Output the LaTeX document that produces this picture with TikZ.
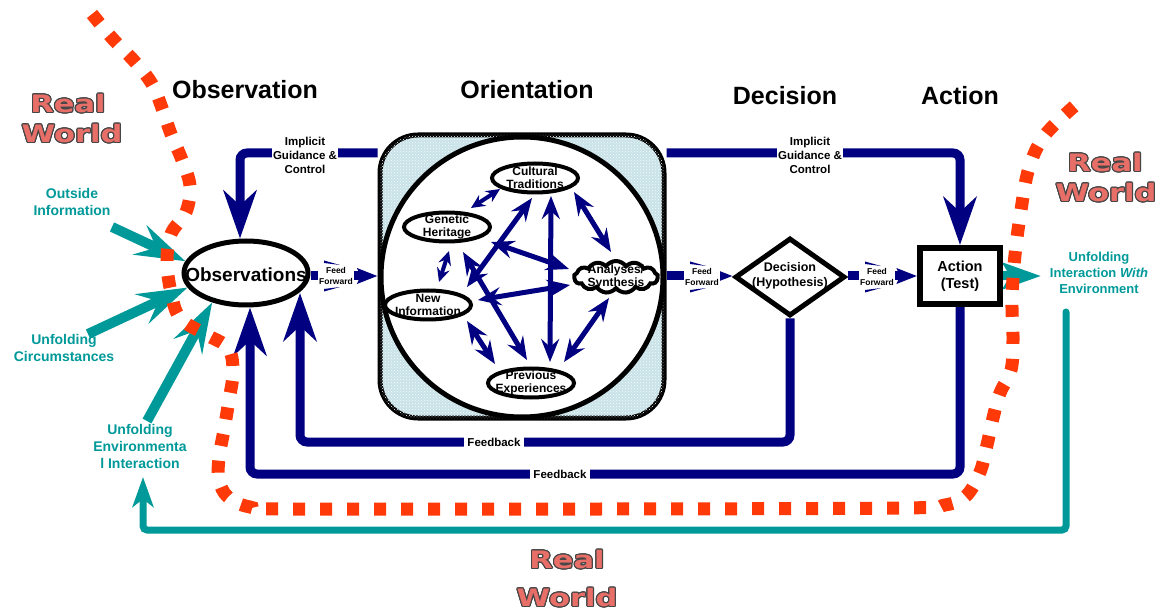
\documentclass[tikz,border=0pt]{standalone}
\usepackage{graphicx}
\usepackage{fontspec}
\setmainfont{Liberation Sans}
\newfontfamily\rwfont{DejaVu Sans}
\usepackage{contour}
\contourlength{0.9pt}
\usetikzlibrary{arrows.meta,shapes.geometric,shapes.symbols,patterns}
\definecolor{navy}{RGB}{0,0,128}
\definecolor{tealc}{RGB}{0,153,153}
\definecolor{dotred}{RGB}{255,58,8}
\definecolor{orientfill}{RGB}{200,226,232}
\definecolor{rwfill}{RGB}{232,110,104}
\definecolor{rwline}{RGB}{70,70,70}
\newcommand\rw[1]{\scalebox{1.27}[1]{\textcolor{rwfill}{\contour{rwline}{#1}}}}
\pgfdeclarelayer{back}
\pgfsetlayers{back,main}
% two thin wedges peeking out around a feed-forward label
\newcommand\slivers[1]{%
  \fill[navy] ([shift={(-12,-15.5)}]#1.center) -- ([shift={(4,-11)}]#1.center) -- ([shift={(-12,-13)}]#1.center) -- cycle;
  \fill[navy] ([shift={(-12,15.5)}]#1.center) -- ([shift={(4,11)}]#1.center) -- ([shift={(-12,13)}]#1.center) -- cycle;}
\begin{document}
\begin{tikzpicture}[x=1pt,y=-1pt,
  title/.style={font=\fontsize{25}{28}\selectfont\bfseries},
  flow/.style={draw=navy,line width=9pt,rounded corners=7pt},
  bighead/.style={-{Stealth[length=48pt,width=33pt,inset=15pt]}},
  guide/.style={font=\fontsize{11.5}{14}\selectfont\bfseries,fill=white,align=center,inner sep=1.5pt},
  fftext/.style={font=\fontsize{8.5}{10.5}\selectfont\bfseries,fill=white,align=center,inner sep=1.5pt},
  ffarrow/.style={draw=navy,line width=9pt,-{Stealth[length=20pt,width=15pt,inset=3pt]}},
  fbtext/.style={font=\fontsize{11.5}{13}\selectfont\bfseries,fill=white,inner sep=3pt},
  inlbl/.style={font=\fontsize{14}{17}\selectfont\bfseries,text=tealc,align=center},
  inarrow/.style={draw=tealc,line width=10pt,-{Stealth[length=50pt,width=32pt,inset=18pt]}},
  orarrow/.style={draw=navy,line width=5pt,{Stealth[length=23pt,width=18pt,inset=8pt]}-{Stealth[length=23pt,width=18pt,inset=8pt]}},
  smallarrow/.style={draw=navy,line width=4pt,{Stealth[length=14pt,width=13pt,inset=5pt]}-{Stealth[length=14pt,width=13pt,inset=5pt]}},
  sub/.style={draw,line width=4pt,ellipse,fill=white,inner sep=0pt,minimum width=86pt,minimum height=29pt},
  subtext/.style={font=\fontsize{12}{13}\selectfont\bfseries,align=center},
  rwtext/.style={font=\rwfont\fontsize{24}{28}\selectfont\bfseries,inner sep=0pt}
]
\useasboundingbox (0,0) rectangle (1157,612);

% phase titles
\node[title] (tobs) at (245,90) {Observation};
\node[title] (tori) at (527,90) {Orientation};
\node[title] (tdec) at (785,96) {Decision};
\node[title] (tact) at (960,96) {Action};

% real world labels
\node[rwtext] (rw1a) at (68,104) {\rw{Real}};
\node[rwtext] (rw1b) at (72,134) {\rw{World}};
\node[rwtext] (rw2a) at (1105,163) {\rw{Real}};
\node[rwtext] (rw2b) at (1106,193) {\rw{World}};
\node[rwtext] (rw3a) at (567,560) {\rw{Real}};
\node[rwtext] (rw3b) at (567,598) {\rw{World}};

% main boxes
\node[draw,line width=5pt,ellipse,fill=white,minimum width=124pt,minimum height=64pt,inner sep=0pt] (obs) at (246,273) {};
\node[font=\fontsize{19}{22}\selectfont\bfseries] (obst) at (246,275) {Observations};
\node[draw,line width=5pt,rounded corners=38pt,fill=orientfill,
      postaction={pattern=crosshatch dots,pattern color=white!85!orientfill},
      minimum width=284pt,minimum height=283pt] (orient) at (522,276.5) {};
\node[draw,line width=5pt,ellipse,fill=white,minimum width=282pt,minimum height=280pt,inner sep=0pt] (orc) at (522,277) {};
\node[draw,line width=5pt,diamond,fill=white,minimum width=110pt,minimum height=78pt,inner sep=0pt] (dec) at (790,277) {};
\node[font=\fontsize{12.5}{15}\selectfont\bfseries,align=center] (dect) at (790,276) {Decision\\(Hypothesis)};
\node[draw,line width=6pt,fill=white,minimum width=80pt,minimum height=56pt,align=center,font=\fontsize{14.5}{17}\selectfont\bfseries] (act) at (960,276) {Action\\(Test)};

% connectors behind the boxes
\begin{pgfonlayer}{back}
  \fill[white] (0,0) rectangle (1157,612);
  \draw[flow,bighead] (orient.west |- 0,153) -- (240,153) -- (obs.north -| 240,0);
  \draw[flow,bighead] (orient.east |- 0,153) -- (960,153) -- (act.north);
  \draw[flow,bighead] (dec.south) -- (dec.south |- 0,442) -- (300,442) -- (300,293);
  \draw[flow,bighead] (act.south) -- (act.south |- 0,474) -- (250,474) -- (obs.south -| 250,0);
  \draw[ffarrow] (obs.east |- 0,276) -- (orient.west |- 0,276);
  \draw[ffarrow] (orient.east |- 0,276) -- (dec.west |- 0,276);
  \draw[ffarrow] (dec.east |- 0,276) -- (act.west |- 0,276);
  % inputs from the environment
  \coordinate (oiA) at (112,227);
  \coordinate (ucA) at (88,334);
  \coordinate (ueA) at (147,421);
  \draw[inarrow] (oiA) -- (obs.169);
  \draw[inarrow] (ucA) -- (obs.194);
  \draw[inarrow] (ueA) -- (obs.221);
  \draw[draw=tealc,line width=9pt,-{Stealth[length=38pt,width=26pt,inset=7pt]}] (act.east) -- ++(38,0);
  \coordinate (envTop) at (1066,312);
  \draw[draw=tealc,line width=7pt,line cap=round,rounded corners=4pt,-{Stealth[length=30pt,width=21pt,inset=8pt]}]
    (envTop) -- (1066,530) -- (143,530) -- (143,477);
\end{pgfonlayer}

% labels on the connectors
\node[guide] (ig1) at (305,155) {Implicit\\Guidance \&\\Control};
\node[guide] (ig2) at (810,155) {Implicit\\Guidance \&\\Control};
\node[fftext] (ff1) at (336,276) {Feed\\Forward};
\node[fftext] (ff2) at (702,277) {Feed\\Forward};
\node[fftext] (ff3) at (877,277) {Feed\\Forward};
\slivers{ff1}\slivers{ff2}\slivers{ff3}
\node[fbtext] (fb1) at (494,442) {Feedback};
\node[fbtext] (fb2) at (560,474) {Feedback};

\node[inlbl] (oi) at (72,202) {Outside\\Information};
\node[inlbl] (uc) at (64,348) {Unfolding\\Circumstances};
\node[inlbl] (ue) at (140,446) {Unfolding\\Environmenta\\l Interaction};
\node[inlbl,font=\fontsize{13}{16}\selectfont\bfseries] (uie) at (1099,273) {Unfolding\\Interaction {\itshape With}\\Environment};

% orientation internals
\coordinate (a1) at (574,192);  \coordinate (a2) at (611,252);
\coordinate (b1) at (551,196);  \coordinate (b2) at (550,362);
\coordinate (c1) at (609,298);  \coordinate (c2) at (564,362);
\coordinate (d1) at (467,321);  \coordinate (d2) at (495,364);
\coordinate (e1) at (467,287);  \coordinate (e2) at (532,198);
\coordinate (f1) at (463,252);  \coordinate (f2) at (527,360);
\coordinate (g1) at (491,242);  \coordinate (g2) at (569,269);
\coordinate (h1) at (478,300);  \coordinate (h2) at (570,285);
\coordinate (i1) at (471,208);  \coordinate (i2) at (500,189);
\coordinate (j1) at (449,251);  \coordinate (j2) at (439,282);
\foreach \p in {a,b,c,d,e,f,g,h} {\draw[orarrow] (\p1) -- (\p2);}
\draw[smallarrow] (i1) -- (i2);
\draw[smallarrow] (j1) -- (j2);

\node[sub] (cult) at (535,178) {};
\node[sub] (gen) at (447,227) {};
\node[sub] (newi) at (428,305) {};
\node[sub] (prev) at (531,383) {};
\node[draw,line width=4pt,cloud,cloud puffs=13,cloud puff arc=110,aspect=2.6,fill=white,inner sep=0pt,minimum width=84pt,minimum height=32pt] (anal) at (616,277) {};
\node[subtext] (cultt) at (cult) {Cultural\\Traditions};
\node[subtext] (gent) at (gen) {Genetic\\Heritage};
\node[subtext] (newit) at (newi) {New\\Information};
\node[subtext] (prevt) at (prev) {Previous\\Experiences};
\node[subtext] (analt) at (anal) {Analyses/\\Synthesis};

% boundary of the real world
\draw[dotred,line width=13pt,dash pattern=on 12pt off 15pt]
  plot[smooth,tension=0.6] coordinates {(92,14) (112,38) (135,62) (152,84) (162,108) (171,134) (182,160) (190,186) (186,212) (171,234) (167,262) (171,292) (180,318) (205,334) (228,348) (233,372) (229,400) (224,430) (219,458) (219,480) (228,497) (250,507) (290,509) (600,509) (900,508) (945,505) (966,496) (980,472) (987,445) (993,418) (1000,393) (1011,370) (1013,340) (1012,300) (1015,255) (1021,210) (1029,168) (1045,135) (1078,103)};
\end{tikzpicture}
\end{document}
